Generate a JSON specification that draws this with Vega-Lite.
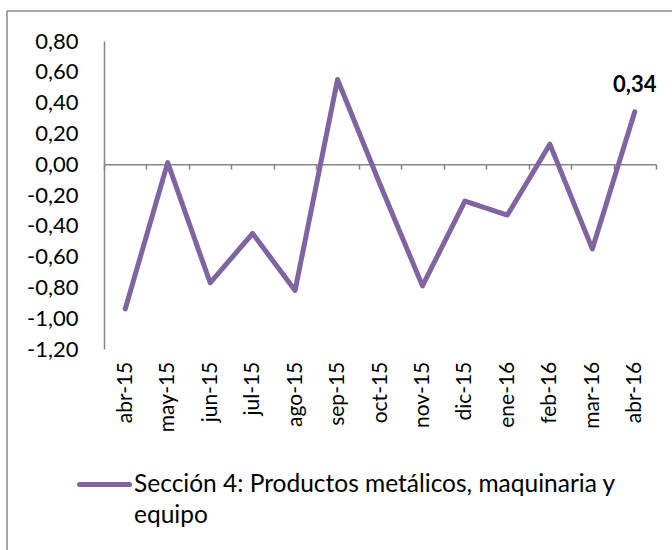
{
  "$schema": "https://vega.github.io/schema/vega-lite/v6.json",
  "width": 665,
  "height": 539,
  "autosize": {"type": "none"},
  "padding": {"left": 7, "top": 11, "right": 0, "bottom": 0},
  "background": "white",
  "config": {
    "locale": {"number": {"decimal": ",", "thousands": ".", "grouping": [3], "currency": ["", ""], "minus": "-"}},
    "view": {"stroke": "#898989", "strokeWidth": 1.5, "strokeDash": [665, 1204, 539, 0]},
    "font": "Lato"
  },
  "data": {
    "values": [
      {"mes": "abr-15", "valor": -0.94, "serie": "Sección 4: Productos metálicos, maquinaria y equipo"},
      {"mes": "may-15", "valor": 0.01, "serie": "Sección 4: Productos metálicos, maquinaria y equipo"},
      {"mes": "jun-15", "valor": -0.77, "serie": "Sección 4: Productos metálicos, maquinaria y equipo"},
      {"mes": "jul-15", "valor": -0.45, "serie": "Sección 4: Productos metálicos, maquinaria y equipo"},
      {"mes": "ago-15", "valor": -0.82, "serie": "Sección 4: Productos metálicos, maquinaria y equipo"},
      {"mes": "sep-15", "valor": 0.55, "serie": "Sección 4: Productos metálicos, maquinaria y equipo"},
      {"mes": "oct-15", "valor": -0.13, "serie": "Sección 4: Productos metálicos, maquinaria y equipo"},
      {"mes": "nov-15", "valor": -0.79, "serie": "Sección 4: Productos metálicos, maquinaria y equipo"},
      {"mes": "dic-15", "valor": -0.24, "serie": "Sección 4: Productos metálicos, maquinaria y equipo"},
      {"mes": "ene-16", "valor": -0.33, "serie": "Sección 4: Productos metálicos, maquinaria y equipo"},
      {"mes": "feb-16", "valor": 0.13, "serie": "Sección 4: Productos metálicos, maquinaria y equipo"},
      {"mes": "mar-16", "valor": -0.55, "serie": "Sección 4: Productos metálicos, maquinaria y equipo"},
      {"mes": "abr-16", "valor": 0.34, "serie": "Sección 4: Productos metálicos, maquinaria y equipo"}
    ]
  },
  "encoding": {
    "x": {
      "field": "mes", "type": "ordinal", "sort": null,
      "scale": {"type": "band", "range": [97, 649], "paddingInner": 0, "paddingOuter": 0},
      "axis": {
        "orient": "bottom", "offset": -385.8, "title": null, "grid": false,
        "domain": true, "domainColor": "#868686", "domainWidth": 1.5,
        "ticks": true, "tickBand": "extent", "tickSize": 5, "tickColor": "#868686", "tickWidth": 1.5,
        "labelAngle": -90, "labelPadding": 192, "labelFontSize": 21, "labelColor": "#000000",
        "labelFont": "Lato", "labelOverlap": false
      }
    },
    "y": {
      "field": "valor", "type": "quantitative",
      "scale": {"domain": [-1.2, 0.8], "range": [338, 30], "nice": false, "zero": false},
      "axis": {
        "orient": "left", "offset": -97, "title": null, "grid": false,
        "values": [-1.2, -1.0, -0.8, -0.6, -0.4, -0.2, 0, 0.2, 0.4, 0.6, 0.8],
        "format": ".2f",
        "domain": true, "domainColor": "#868686", "domainWidth": 1.5,
        "ticks": false, "tickSize": 0, "labelPadding": 26,
        "labelFontSize": 22, "labelColor": "#000000", "labelFont": "Lato",
        "labelFlush": false, "labelOverlap": false
      }
    }
  },
  "layer": [
    {
      "mark": {"type": "line", "strokeWidth": 5, "strokeCap": "round", "strokeJoin": "round"},
      "encoding": {
        "color": {
          "field": "serie", "type": "nominal",
          "scale": {"range": ["#8064A2"]},
          "legend": {
            "orient": "none", "legendX": 70, "legendY": 446, "title": null, "padding": 0,
            "symbolType": "stroke", "symbolSize": 2500, "symbolStrokeWidth": 5,
            "labelFontSize": 24.5, "labelColor": "#000000", "labelFont": "Lato",
            "labelOffset": 2, "labelLimit": 0,
            "labelExpr": "[slice(datum.label, 0, 44), slice(datum.label, 45)]",
            "encode": {
              "symbols": {"update": {"strokeCap": {"value": "round"}}},
              "labels": {"update": {"lineHeight": {"value": 31}}}
            }
          }
        }
      }
    },
    {
      "transform": [{"filter": "datum.mes == 'abr-16'"}],
      "mark": {"type": "text", "fontWeight": "bold", "fontSize": 22, "dy": -20, "baseline": "alphabetic", "color": "#000000", "font": "Lato"},
      "encoding": {
        "text": {"field": "valor", "type": "quantitative", "format": ".2f"}
      }
    }
  ]
}
